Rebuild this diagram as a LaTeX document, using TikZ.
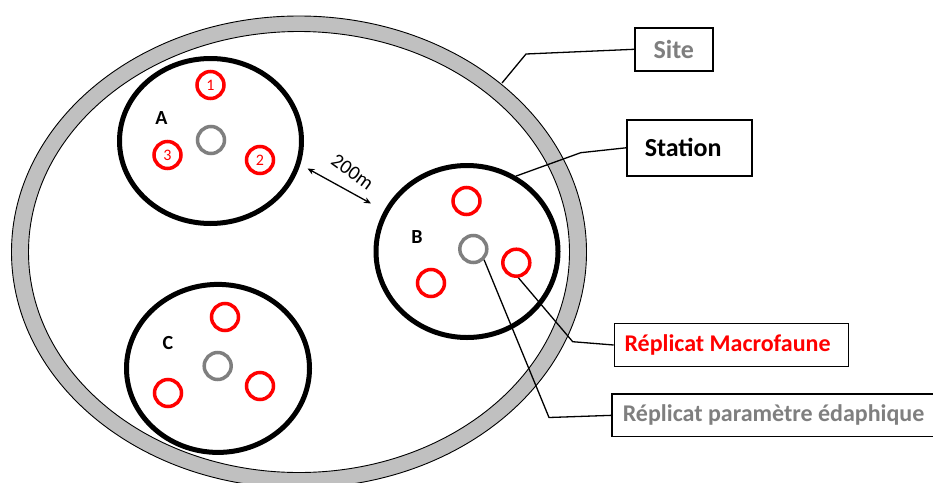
\documentclass[tikz,border=0pt]{standalone}
\usepackage{fontspec}
\setmainfont{Carlito}
\usetikzlibrary{arrows.meta,shapes.geometric}
\definecolor{ringgray}{HTML}{C0C0C0}
\definecolor{txtgray}{HTML}{7F7F7F}
\definecolor{repred}{HTML}{FF0000}
\begin{document}
\begin{tikzpicture}[x=1pt,y=-1pt,
  station/.style={ellipse, draw=black, line width=5pt, inner sep=0pt},
  macro/.style={circle, draw=repred, line width=3.5pt, minimum size=27pt, inner sep=0pt,
    text=repred, font=\fontsize{16}{17}\selectfont},
  edaph/.style={circle, draw=txtgray, line width=3.5pt, minimum size=27pt, inner sep=0pt},
  stlabel/.style={font=\fontsize{20}{22}\selectfont\bfseries, inner sep=0pt},
  legbox/.style={draw=black, line width=1.6pt, anchor=north west, inner ysep=0pt,
    font=\fontsize{24}{28}\selectfont\bfseries},
  leader/.style={draw=black, line width=1.3pt}
]
\useasboundingbox (0,0) rectangle (933,482);
\clip (0,0) rectangle (933,482);
\fill[white] (0,0) rectangle (933,482);

% Site ring
\fill[ringgray, even odd rule]
  (299,252) ellipse [x radius=287.5, y radius=236]
  (299,252) ellipse [x radius=270.5, y radius=220.5];
\draw[line width=0.9pt] (299,252) ellipse [x radius=287.5, y radius=236];
\draw[line width=0.9pt] (299,252) ellipse [x radius=270.5, y radius=220.5];

% Stations
\node[station, minimum width=182pt, minimum height=165pt] (A) at (210.5,141) {};
\node[station, minimum width=182pt, minimum height=172pt] (B) at (467,251.5) {};
\node[station, minimum width=183pt, minimum height=168pt] (C) at (218,368.4) {};

\node[stlabel] (la) at (161.5,118) {A};
\node[stlabel] (lb) at (417,237) {B};
\node[stlabel] (lc) at (168,343) {C};

% Replicates A
\node[macro] (a1) at (210.5,85) {1};
\node[macro] (a2) at (260,160) {2};
\node[macro] (a3) at (167.5,155) {3};
\node[edaph] (ag) at (211,140) {};

% Replicates B
\node[macro] (b1) at (466.5,201) {};
\node[macro] (b2) at (516.3,262.7) {};
\node[macro] (b3) at (431,283) {};
\node[edaph] (bg) at (473.3,249) {};

% Replicates C
\node[macro] (c1) at (225,317) {};
\node[macro] (c2) at (260,386) {};
\node[macro] (c3) at (168,393) {};
\node[edaph] (cg) at (217.7,366) {};

% Distance arrow
\coordinate (d1) at (307.5,168.5);
\coordinate (d2) at (371,203.5);
\draw[line width=1.3pt, {Stealth[length=7pt,width=6pt]}-{Stealth[length=7pt,width=6pt]}] (d1) -- (d2);
\node[rotate=-36, font=\fontsize{20}{22}\selectfont, inner sep=0pt] (dist) at (352.5,172) {200m};

% Legend boxes
\node[legbox, text=txtgray, minimum height=43pt, inner xsep=18pt, font=\fontsize{26}{30}\selectfont\bfseries]
  (site) at (634,27) {\makebox[42pt][c]{Site}};
\node[legbox, minimum height=56pt, inner xsep=18pt, font=\fontsize{26}{30}\selectfont\bfseries]
  (stat) at (626,119) {\makebox[89pt][l]{Station}};
\node[legbox, text=repred, minimum height=43pt, inner xsep=10pt]
  (macro) at (613.7,322.7) {\makebox[214pt][l]{Réplicat Macrofaune}};
\node[legbox, text=txtgray, minimum height=42.5pt, inner xsep=11pt]
  (edap) at (611,393.3) {\makebox[320pt][l]{Réplicat paramètre édaphique}};

% Leaders
\coordinate (sk) at (526,54);
\coordinate (sp) at (502,83);
\draw[leader] (site.west) -- (sk) -- (sp);
\coordinate (tk) at (580.7,152.7);
\draw[leader] (stat.west) -- (tk) -- (B.57);
\coordinate (mk) at (572.7,341.7);
\draw[leader] (macro.west) -- (mk) -- (b2.-82);
\coordinate (ek) at (549,417.5);
\draw[leader] (edap.west) -- (ek) -- (bg.-45);
\end{tikzpicture}
\end{document}
